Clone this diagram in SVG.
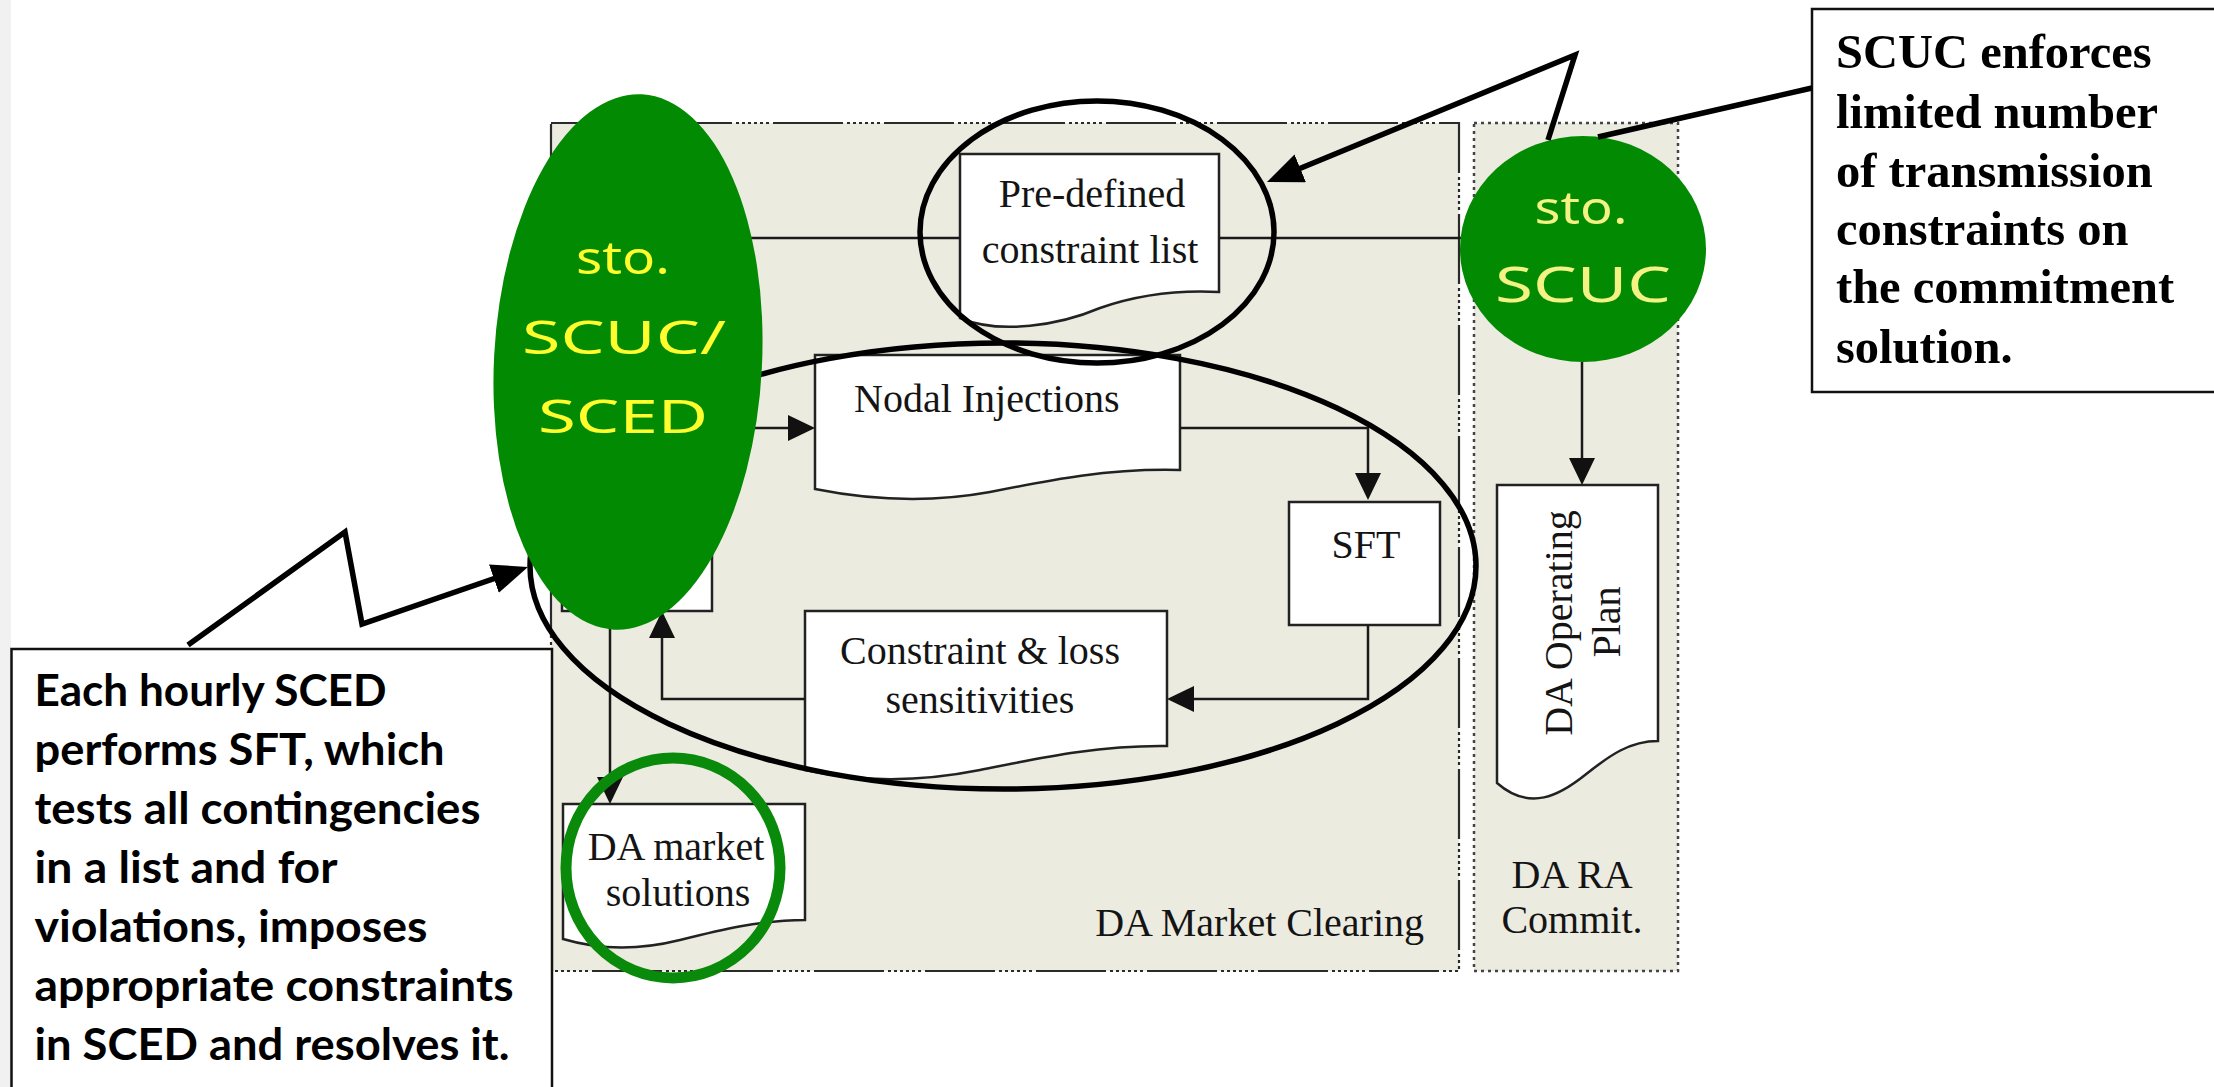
<svg xmlns="http://www.w3.org/2000/svg" width="2214" height="1087" viewBox="0 0 2214 1087">
<defs>
<style>
.panel{fill:#ecebe0}
.b1{fill:none;stroke:#2a2a2a;stroke-width:2.2;stroke-dasharray:70 4 3 3 3 3 3 3 3 3 3 3 3 4}
.b2{fill:none;stroke:#444;stroke-width:2.5;stroke-dasharray:3 4}
.doc{fill:#fff;stroke:#222;stroke-width:2.5}
.t{font-family:"Liberation Serif","Times New Roman",serif;font-size:40px;fill:#141414}
.conn{fill:none;stroke:#1a1a1a;stroke-width:2.5}
.call{fill:none;stroke:#000;stroke-width:5.5}
.oval{fill:none;stroke:#000;stroke-width:5.5}
.hand{font-family:"Noto Sans","DejaVu Sans",sans-serif;text-anchor:middle}
.note{fill:#fff;stroke:#111;stroke-width:2.5}
.nb{font-family:"Liberation Serif","Times New Roman",serif;font-weight:bold;font-size:48.5px;fill:#000}
.ns{font-family:Lato,"Noto Sans",sans-serif;font-weight:bold;font-size:44px;fill:#000}
</style>
<marker id="ah" markerUnits="userSpaceOnUse" markerWidth="28" markerHeight="26" refX="22" refY="13" orient="auto" viewBox="0 0 28 26"><path d="M0,0 L27,13 L0,26 z" fill="#111"/></marker>
<marker id="bh" markerUnits="userSpaceOnUse" markerWidth="38" markerHeight="30" refX="26" refY="15" orient="auto" viewBox="0 0 38 30"><path d="M0,0 L36,15 L0,30 z" fill="#000"/></marker>
</defs>
<rect x="0" y="0" width="2214" height="1087" fill="#fff"/>
<rect x="0" y="0" width="11" height="1087" fill="#f1f1f1"/>

<g id="panel-da-market-clearing">
<rect class="panel" x="551" y="123" width="908" height="848"/>
<rect class="b1" x="551" y="123" width="908" height="848"/>
<text class="t" x="1424" y="936" text-anchor="end">DA Market Clearing</text>
</g>
<g id="panel-da-ra-commit">
<rect class="panel" x="1474" y="123" width="204" height="848"/>
<rect class="b2" x="1474" y="123" width="204" height="848"/>
<text class="t" x="1572" y="888" text-anchor="middle">DA RA</text>
<text class="t" x="1572" y="933" text-anchor="middle">Commit.</text>
</g>

<g id="node-scuc-sced-box">
<rect class="doc" x="562" y="250" width="150" height="361"/>
</g>
<g id="node-predefined">
<path class="doc" d="M960,154 H1219 V292 C1180,290 1140,294 1100,308 C1060,325 1000,335 960,318 Z"/>
<text class="t" x="1092" y="207" text-anchor="middle">Pre-defined</text>
<text class="t" x="1090" y="263" text-anchor="middle">constraint list</text>
</g>
<g id="node-nodal">
<path class="doc" d="M815,355 H1180 V470 C1110,468 1050,480 990,492 C930,503 870,500 815,489 Z"/>
<text class="t" x="854" y="412">Nodal Injections</text>
</g>
<g id="node-sft">
<rect class="doc" x="1289" y="502" width="151" height="123"/>
<text class="t" x="1366" y="558" text-anchor="middle">SFT</text>
</g>
<g id="node-constraint">
<path class="doc" d="M805,611 H1167 V746 C1100,745 1040,758 980,770 C920,782 860,782 805,770 Z"/>
<text class="t" x="980" y="664" text-anchor="middle">Constraint &amp; loss</text>
<text class="t" x="980" y="713" text-anchor="middle">sensitivities</text>
</g>
<g id="node-da-market-solutions">
<path class="doc" d="M563,804 H805 V920 C760,920 720,930 680,940 C640,950 600,950 563,939 Z"/>
<text class="t" x="676" y="860" text-anchor="middle">DA market</text>
<text class="t" x="678" y="906" text-anchor="middle">solutions</text>
</g>
<g id="node-da-operating-plan">
<path class="doc" d="M1497,485 H1658 V741 C1630,741 1610,755 1585,775 C1560,795 1530,812 1497,783 Z"/>
<text class="t" x="1572" y="623" text-anchor="middle" transform="rotate(-90 1572 623)">DA Operating</text>
<text class="t" x="1620" y="622" text-anchor="middle" transform="rotate(-90 1620 622)">Plan</text>
</g>

<g id="connectors">
<path class="conn" d="M700,238 H960"/>
<path class="conn" d="M1219,238 H1500"/>
<path class="conn" d="M740,428 H810" marker-end="url(#ah)"/>
<path class="conn" d="M1180,428 H1368 V495" marker-end="url(#ah)"/>
<path class="conn" d="M1368,625 V699 H1172" marker-end="url(#ah)"/>
<path class="conn" d="M805,699 H662 V616" marker-end="url(#ah)"/>
<path class="conn" d="M610,611 V799" marker-end="url(#ah)"/>
<path class="conn" d="M1582,362 V480" marker-end="url(#ah)"/>
</g>

<g id="highlight-ovals">
<ellipse class="oval" cx="1003" cy="566" rx="473" ry="223"/>
<ellipse class="oval" cx="1097" cy="232" rx="177" ry="131"/>
</g>

<g id="node-sto-scuc-sced">
<ellipse cx="628" cy="362" rx="134" ry="268" fill="#038a03" transform="rotate(3 628 362)"/>
<text class="hand" x="623" y="274" font-size="46" fill="#ffff2e" textLength="94" lengthAdjust="spacingAndGlyphs">sto.</text>
<text class="hand" x="624" y="354" font-size="46" fill="#ffff2e" textLength="204" lengthAdjust="spacingAndGlyphs">SCUC/</text>
<text class="hand" x="623" y="433" font-size="46" fill="#ffff2e" textLength="170" lengthAdjust="spacingAndGlyphs">SCED</text>
</g>
<g id="ring-da-market">
<ellipse cx="673" cy="868" rx="107" ry="110" fill="none" stroke="#0a8a0a" stroke-width="11"/>
</g>
<g id="node-sto-scuc">
<ellipse cx="1583" cy="249" rx="123" ry="113" fill="#038a03"/>
<text class="hand" x="1581" y="224" font-size="46" fill="#f3f283" textLength="93" lengthAdjust="spacingAndGlyphs">sto.</text>
<text class="hand" x="1583" y="302" font-size="50" fill="#f3f283" textLength="176" lengthAdjust="spacingAndGlyphs">SCUC</text>
</g>

<g id="note-scuc">
<rect class="note" x="1812" y="9" width="420" height="383"/>
<text class="nb" x="1836" y="68">SCUC enforces</text>
<text class="nb" x="1836" y="128">limited number</text>
<text class="nb" x="1836" y="187">of transmission</text>
<text class="nb" x="1836" y="245">constraints on</text>
<text class="nb" x="1836" y="303">the commitment</text>
<text class="nb" x="1836" y="363">solution.</text>
</g>
<g id="note-sced">
<rect class="note" x="11.5" y="649" width="540.5" height="460"/>
<text class="ns" x="34.5" y="706" textLength="352" lengthAdjust="spacingAndGlyphs">Each hourly SCED</text>
<text class="ns" x="34.5" y="765" textLength="410" lengthAdjust="spacingAndGlyphs">performs SFT, which</text>
<text class="ns" x="34.5" y="824" textLength="446" lengthAdjust="spacingAndGlyphs">tests all contingencies</text>
<text class="ns" x="34.5" y="883" textLength="303" lengthAdjust="spacingAndGlyphs">in a list and for</text>
<text class="ns" x="34.5" y="942" textLength="393" lengthAdjust="spacingAndGlyphs">violations, imposes</text>
<text class="ns" x="34.5" y="1001" textLength="479" lengthAdjust="spacingAndGlyphs">appropriate constraints</text>
<text class="ns" x="34.5" y="1060" textLength="475" lengthAdjust="spacingAndGlyphs">in SCED and resolves it.</text>
</g>

<g id="callouts">
<path class="call" d="M1548,140 L1575,55 L1276.2,178.2" marker-end="url(#bh)"/>
<path class="call" d="M1598,137 L1812,88"/>
<path class="call" d="M188,645 L345,532 L362,624 L518.5,570.2" marker-end="url(#bh)"/>
</g>
</svg>
